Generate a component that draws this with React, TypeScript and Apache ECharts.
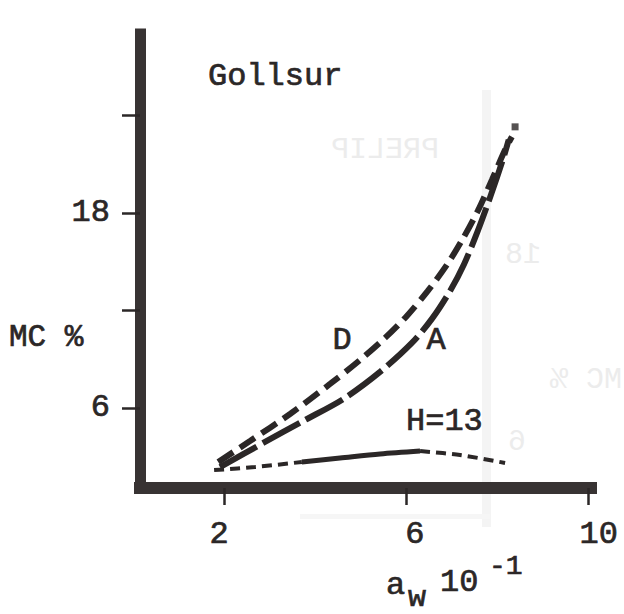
import React, { useEffect, useRef } from "react";
import * as echarts from "echarts";

// a_w (x 10^-1) and moisture content MC %
const desorptionAw = [1.87, 2.57, 3.45, 4.33, 4.99, 5.54, 6.02, 6.48, 6.9, 7.25, 7.58, 7.89, 8.18, 8.33];
const desorptionMc = [2.68, 3.97, 5.63, 7.48, 8.95, 10.31, 11.66, 13.2, 14.8, 16.4, 18.12, 20.03, 21.88, 22.68];

const adsorptionAw = [1.91, 2.86, 3.74, 4.62, 5.43, 6.13, 6.57, 6.97, 7.28, 7.58, 7.87, 8.13, 8.26];
const adsorptionMc = [2.37, 3.85, 5.2, 6.55, 8.22, 10.0, 11.48, 13.2, 14.86, 16.89, 19.11, 21.26, 22.49];

const hStartAw = [1.78, 2.68, 3.71];
const hStartMc = [2.18, 2.37, 2.68];
const hMidAw = [3.71, 4.55, 5.43, 6.31];
const hMidMc = [2.68, 2.92, 3.17, 3.35];
const hEndAw = [6.31, 7.19, 8.18];
const hEndMc = [3.35, 3.11, 2.62];

const endDotAw = [8.4];
const endDotMc = [23.29];

const xTicks = [2, 6, 10];
const yTicks = [6, 12, 18, 24];
const yLabels = [6, 18];

const INK = "#2b2727";
const GHOST = "#ececec";
const FONT = "'Liberation Mono', 'Courier New', monospace";

const zip = (a: number[], b: number[]) => a.map((v, i) => [v, b[i]]);

export default function App() {
  const ref = useRef<HTMLDivElement>(null);
  useEffect(() => {
    if (!ref.current) return;
    const chart = echarts.init(ref.current, null, { renderer: "svg" });
    const lineSeries = (data: number[][], type: any, width: number) => ({
      type: "line",
      data,
      smooth: 0.3,
      symbol: "none",
      z: 3,
      lineStyle: { color: INK, width, type },
    });
    const t = (x: number, y: number, text: string, size: number, extra: any = {}) => ({
      type: "text",
      x,
      y,
      z: 5,
      style: {
        text,
        font: `${size}px ${FONT}`,
        fill: INK,
        stroke: INK,
        lineWidth: 0.7,
        textVerticalAlign: "middle",
        ...extra,
      },
    });
    const g = (x: number, y: number, text: string, size: number) => ({
      type: "text",
      z: 0,
      x,
      y,
      scaleX: -1,
      style: { text, font: `${size}px ${FONT}`, fill: GHOST, textVerticalAlign: "middle" },
    });
    const labelBase = {
      color: INK,
      fontFamily: FONT,
      fontSize: 32,
      textBorderColor: INK,
      textBorderWidth: 0.7,
    };
    chart.setOption({
      animation: false,
      backgroundColor: "#ffffff",
      grid: { left: 140, right: 33, top: 34, bottom: 126 },
      xAxis: {
        type: "value",
        min: 0.15,
        max: 10.07,
        z: 4,
        splitLine: { show: false },
        axisLine: { show: true, lineStyle: { color: "#383333", width: 12, cap: "square" } },
        axisTick: { show: true, customValues: xTicks, length: 17, lineStyle: { color: INK, width: 2.5 } },
        axisLabel: {
          customValues: xTicks,
          margin: 30,
          ...labelBase,
          formatter: (v: number) => (v === 2 ? "{l|2}" : v === 6 ? "{r|6}" : "{rr|10}"),
          rich: {
            l: { ...labelBase, padding: [0, 10, 0, 0] },
            r: { ...labelBase, padding: [0, 0, 0, 18] },
            rr: { ...labelBase, padding: [0, 0, 0, 22] },
          },
        },
      },
      yAxis: {
        type: "value",
        min: 1.08,
        max: 29.0,
        z: 4,
        splitLine: { show: false },
        axisLine: { show: true, lineStyle: { color: "#383333", width: 11, cap: "square" } },
        axisTick: { show: true, customValues: yTicks, length: 18, lineStyle: { color: INK, width: 2.5 } },
        axisLabel: {
          customValues: yLabels,
          margin: 30,
          ...labelBase,
          padding: [10, 0, 0, 0],
        },
      },
      graphic: [
        // faint bleed-through from the reverse page
        { type: "rect", z: 0, shape: { x: 482, y: 90, width: 9, height: 437 }, style: { fill: "#f4f4f4" } },
        { type: "rect", z: 0, shape: { x: 300, y: 514, width: 190, height: 5 }, style: { fill: "#f6f6f6" } },
        g(439, 150, "PRELIP", 30),
        g(541, 255, "18", 30),
        g(622, 380, "MC %", 30),
        g(526, 442, "6", 30),
        t(208, 76, "Gollsur", 32),
        t(9, 337, "MC %", 31),
        t(342, 340, "D", 32, { textAlign: "center" }),
        t(436, 340, "A", 32, { textAlign: "center" }),
        t(406, 421, "H=13", 32),
        t(386, 585, "a", 32),
        t(408, 598, "w", 30),
        t(440, 582, "10", 32),
        t(489, 566, "-1", 28),
      ],
      series: [
        lineSeries(zip(desorptionAw, desorptionMc), [18, 8], 6),
        lineSeries(zip(adsorptionAw, adsorptionMc), [42, 7], 6),
        lineSeries(zip(hStartAw, hStartMc), [10, 6], 4),
        lineSeries(zip(hMidAw, hMidMc), "solid", 5),
        lineSeries(zip(hEndAw, hEndMc), [10, 6], 4),
        {
          type: "scatter",
          data: zip(endDotAw, endDotMc),
          symbol: "rect",
          symbolSize: 7,
          itemStyle: { color: INK },
          z: 3,
        },
      ],
    });
    return () => chart.dispose();
  }, []);
  return <div ref={ref} style={{ position: "fixed", left: 0, top: 0, width: 624, height: 614 }} />;
}
